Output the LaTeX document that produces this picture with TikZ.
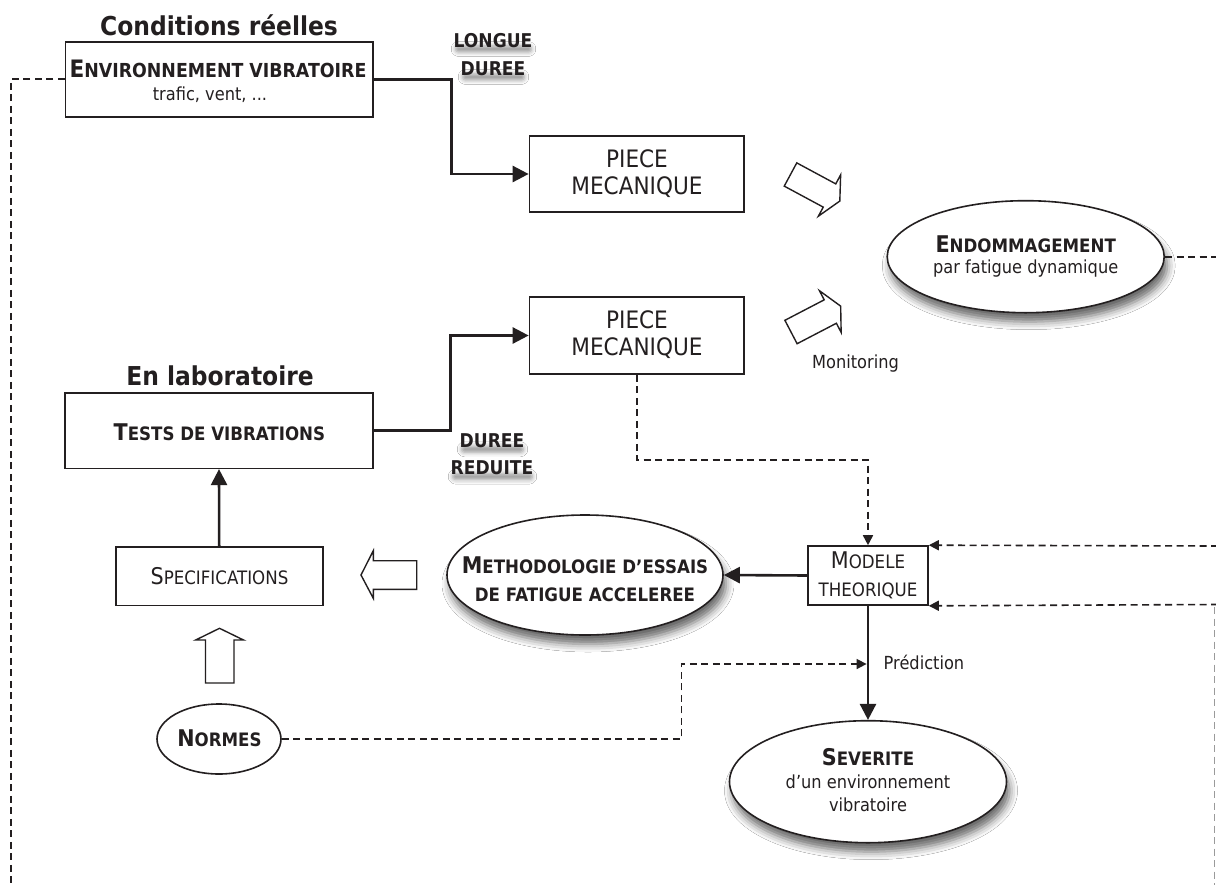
\documentclass[tikz,border=0pt]{standalone}
\usepackage{fontspec}
\setmainfont{DejaVu Sans}[FakeStretch=0.9]
\usetikzlibrary{shapes.geometric,arrows.meta,shadows.blur,backgrounds}

\definecolor{ink}{HTML}{231F20}
\definecolor{edgegray}{HTML}{9A9A9A}

% font size in points (1pt = 1 unit of the picture)
\newcommand{\fs}[1]{\fontsize{#1}{#1}\selectfont}
% large initial letter for the hand-made small capitals
\newcommand{\bigc}[1]{{\fs{23}#1}}

\tikzset{
  boxnode/.style={rectangle, draw=ink, line width=1.6pt, fill=white, inner sep=0pt},
  oval/.style={ellipse, draw=ink, line width=1.6pt, fill=white, inner sep=0pt},
  shadowed/.style={blur shadow={shadow xshift=3pt, shadow yshift=-9pt,
      shadow blur radius=8pt, shadow opacity=60}},
  txt/.style={anchor=base, inner sep=0pt, text=ink},
  conn/.style={draw=ink, line width=2.6pt, line join=miter,
      -{Triangle[length=16pt,width=16pt]}},
  dashline/.style={draw=ink, line width=1.6pt, dash pattern=on 7pt off 4.5pt},
  darr/.style={dashline, -{Triangle[length=10pt,width=10pt]}},
  blockarr/.style={draw=ink, line width=1.4pt, fill=white, line join=miter},
  durlabel/.style={txt, font=\bfseries\fs{19}},
  % soft grey smear under the duration labels
  smear/.style={rounded corners=3pt,
      blur shadow={shadow xshift=0.5pt, shadow yshift=-3.5pt,
      shadow blur radius=4.5pt, shadow opacity=42}},
}

\begin{document}
\begin{tikzpicture}[x=1pt, y=-1pt]
\useasboundingbox (0,0) rectangle (1216,884);

% ---------- shapes ----------
\node[boxnode, minimum width=307.6pt, minimum height=75pt] (env) at (219.2,79.2) {};
\node[boxnode, minimum width=307.5pt, minimum height=75.6pt] (tests) at (219,430.5) {};
\node[boxnode, minimum width=207pt, minimum height=58.6pt] (spec) at (219.2,576) {};
\node[boxnode, minimum width=214.5pt, minimum height=76pt] (piece1) at (636.7,174) {};
\node[boxnode, minimum width=214.5pt, minimum height=77pt] (piece2) at (636.7,335.5) {};
\node[boxnode, minimum width=120pt, minimum height=59pt] (modele) at (868,575.5) {};

\node[oval, shadowed, minimum width=277pt, minimum height=112pt] (endo) at (1025.7,256.7) {};
\node[oval, shadowed, minimum width=276pt, minimum height=120pt] (meth) at (585,575) {};
\node[oval, shadowed, minimum width=277pt, minimum height=122pt] (sev) at (868,781.7) {};
\node[oval, minimum width=124pt, minimum height=70pt] (normes) at (219,739) {};

% ---------- hollow block arrows ----------
\draw[blockarr, shift={(790.5,174.5)}, rotate=-28.3]
  (0,-13.2) -- (44.3,-13.2) -- (44.3,-23.5) -- (56,0) -- (44.3,23.5) -- (44.3,13.2) -- (0,13.2) -- cycle;
\draw[blockarr, shift={(791,332)}, rotate=27.5]
  (0,-13.2) -- (44.3,-13.2) -- (44.3,-23.5) -- (56,0) -- (44.3,23.5) -- (44.3,13.2) -- (0,13.2) -- cycle;
\draw[blockarr] (416.7,560.7) -- (373.3,560.7) -- (373.3,550.7) -- (361,575)
  -- (373.3,598.3) -- (373.3,589.3) -- (416.7,589.3) -- cycle;
\draw[blockarr] (205.5,683) -- (205.5,640) -- (195.7,640) -- (219.5,628.3)
  -- (243.5,640) -- (234,640) -- (234,683) -- cycle;

% ---------- bend points ----------
\coordinate (envL) at (10.7,79.2);
\coordinate (envLb) at (10.7,886);
\coordinate (bendA) at (451.7,79.2);
\coordinate (bendB) at (450.6,430.5);
\coordinate (bendC) at (636.7,460);
\coordinate (bendD) at (868,460);
\coordinate (nA) at (681.6,739);
\coordinate (nB) at (681.6,664);
\coordinate (pred) at (866.6,664);
\coordinate (endoR) at (1218,256.7);
\coordinate (rTop) at (1218,546);
\coordinate (rBot) at (1218,604.5);
\coordinate (gTop) at (1214.5,607);
\coordinate (gBot) at (1214.5,886);

% ---------- connectors ----------
\draw[dashline] (env.west) -- (envL) -- (envLb);
\draw[conn] (env.east) -- (bendA) |- (piece1.west);
\draw[conn] (tests.east) -- (bendB) |- (piece2.west);
\draw[conn] (spec.north) -- (tests.south);
\draw[darr] (piece2.south) -- (bendC) -- (bendD) -- (modele.north);
\draw[conn] (modele.west) -- (meth.east);
\draw[conn] (modele.south) -- (sev.north);
\draw[darr] (normes.east) -- (nA) -- (nB) -- (pred);
\draw[dashline] (endo.east) -- (endoR);
\draw[darr] (rTop) -- (modele.north east);
\draw[darr] (rBot) -- (modele.south east);
\draw[dashline, draw=edgegray, line width=1.2pt] (gTop) -- (gBot);

% ---------- duration labels ----------
\node[durlabel] (longA) at (493,47) {LONGUE};
\node[durlabel] (longB) at (493,75) {DUREE};
\node[durlabel] (redA) at (492,447.3) {DUREE};
\node[durlabel] (redB) at (492,474.6) {REDUITE};

% white page, then the smear behind the duration labels
\begin{scope}[on background layer]
  \fill[white] (0,0) rectangle (1216,884);
  \foreach \lab in {longA,longB,redA,redB} {
    \path[smear] ([xshift=1.5pt,yshift=5pt]\lab.south west)
      rectangle ([xshift=-1.5pt,yshift=-1pt]\lab.south east);
  }
\end{scope}

% ---------- texts ----------
\node[txt, font=\bfseries\fs{26}] (titleA) at (219,35) {Conditions réelles};
\node[txt, font=\bfseries\fs{26}] (titleB) at (220,385) {En laboratoire};

\node[txt, font=\bfseries\fs{19.3}] (envT) at (218,77.5) {{\fs{24}E}NVIRONNEMENT VIBRATOIRE};
\node[txt, font=\fs{18}] (envS) at (210,100) {trafic, vent, ...};

\node[txt, font=\fs{24}] (p1a) at (637,167.7) {PIECE};
\node[txt, font=\fs{24}] (p1b) at (637,194.3) {MECANIQUE};
\node[txt, font=\fs{24}] (p2a) at (637,328.7) {PIECE};
\node[txt, font=\fs{24}] (p2b) at (637,355.3) {MECANIQUE};

\node[txt, anchor=base west, font=\fs{18}] (mon) at (812,368) {Monitoring};

\node[txt, font=\bfseries\fs{18.5}] (endoA) at (1025.7,252) {\bigc{E}NDOMMAGEMENT};
\node[txt, font=\fs{18}] (endoB) at (1025.7,273) {par fatigue dynamique};

\node[txt, font=\bfseries\fs{18.5}] (testsT) at (219.4,440) {\bigc{T}ESTS DE VIBRATIONS};

\node[txt, font=\bfseries\fs{18.5}] (methA) at (585,573.5) {\bigc{M}ETHODOLOGIE D’ESSAIS};
\node[txt, font=\bfseries\fs{18.5}] (methB) at (585,601.5) {DE FATIGUE ACCELEREE};

\node[txt, font=\fs{18.5}] (modA) at (868,568.5) {\bigc{M}ODELE};
\node[txt, font=\fs{18.5}] (modB) at (868,596.7) {THEORIQUE};

\node[txt, font=\fs{18.5}] (specT) at (219.5,584) {\bigc{S}PECIFICATIONS};

\node[txt, anchor=base west, font=\fs{18}] (predT) at (883.5,669.6) {Prédiction};

\node[txt, font=\bfseries\fs{18.5}] (normT) at (219.5,746.7) {\bigc{N}ORMES};

\node[txt, font=\bfseries\fs{18.5}] (sevA) at (868,765) {\bigc{S}EVERITE};
\node[txt, font=\fs{18}] (sevB) at (868,788) {d’un environnement};
\node[txt, font=\fs{18}] (sevC) at (868,811) {vibratoire};
\end{tikzpicture}
\end{document}
